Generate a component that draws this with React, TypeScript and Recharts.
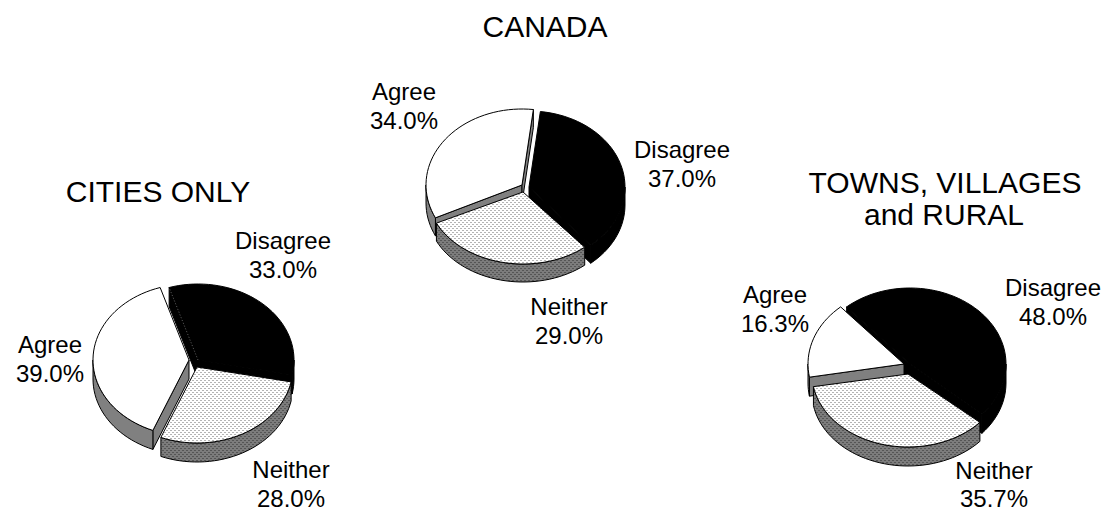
import React from "react";
import { PieChart, Pie, Cell } from "recharts";

// Opinion shares per region, drawn in counter-clockwise order.
const categories = ["Disagree", "Agree", "Neither"];
const canadaValues = [37.0, 34.0, 29.0];
const citiesValues = [33.0, 39.0, 28.0];
const townsValues = [48.0, 16.3, 35.7];

const FONT = "'Liberation Sans', Arial, sans-serif";
const RX = 96;
const RY = 76;

type Slice = { dx: number; dy: number; lx: number; ly: number; ry?: number; gap?: number };
type PieLayout = {
  cx: number;
  cy: number;
  depth: number;
  blackEnd: number; // clock angle where the Disagree wedge ends
  seam?: boolean; // faint line where the Disagree top meets its own wall
  slices: Record<string, Slice>;
};

const canadaLayout: PieLayout = {
  cx: 524,
  cy: 187,
  depth: 18,
  blackEnd: 140,
  slices: {
    Disagree: { dx: 5, dy: 0, lx: 682, ly: 158 },
    Agree: { dx: -2, dy: -2, lx: 404, ly: 100 },
    Neither: { dx: -1, dy: 5, lx: 569, ly: 315, ry: 72 },
  },
};
const citiesLayout: PieLayout = {
  cx: 193,
  cy: 360,
  depth: 19,
  blackEnd: 101.3,
  seam: true,
  slices: {
    Disagree: { dx: 5, dy: 0, lx: 283, ly: 249 },
    Agree: { dx: -4, dy: 0, lx: 50, ly: 353 },
    Neither: { dx: 4, dy: 7, lx: 291, ly: 478 },
  },
};
const townsLayout: PieLayout = {
  cx: 905,
  cy: 364,
  depth: 19,
  blackEnd: 131.5,
  slices: {
    Disagree: { dx: 5, dy: 0, lx: 1053, ly: 296 },
    Agree: { dx: -1, dy: 0, lx: 775, ly: 303 },
    Neither: { dx: 3, dy: 10, lx: 994, ly: 479, ry: 73, gap: 28 },
  },
};

const toRows = (values: number[]) =>
  categories.map((name, i) => ({ name, value: values[i] }));

const point = (cx: number, cy: number, clock: number, ry: number) => {
  const a = (clock * Math.PI) / 180;
  return { x: cx + RX * Math.sin(a), y: cy - ry * Math.cos(a) };
};

const arcPath = (cx: number, cy: number, from: number, to: number, ry: number) => {
  const steps = Math.max(2, Math.ceil(Math.abs(to - from) / 3));
  let d = "";
  for (let i = 1; i <= steps; i++) {
    const p = point(cx, cy, from + ((to - from) * i) / steps, ry);
    d += `L${p.x.toFixed(2)} ${p.y.toFixed(2)}`;
  }
  return d;
};

const fills: Record<string, { top: string; wall: string; stroke: string }> = {
  Disagree: { top: "#000", wall: "#000", stroke: "#000" },
  Agree: { top: "#fff", wall: "#808080", stroke: "#000" },
  Neither: { top: "url(#dotsLight)", wall: "url(#dotsDark)", stroke: "#000" },
};

// Tilted, extruded wedge built from the angles the Pie computed for each sector.
const makeWedge = (layout: PieLayout) => (props: any) => {
  const name = props.payload?.name ?? props.name;
  const off = layout.slices[name];
  const f = fills[name];
  const ry = off.ry ?? RY;
  const depth = layout.depth;
  const a1 = 90 - Math.max(props.startAngle, props.endAngle);
  const a2 = 90 - Math.min(props.startAngle, props.endAngle);
  const s = ((a1 % 360) + 360) % 360;
  const e = s + (a2 - a1);
  const cx = layout.cx + off.dx;
  const cy = layout.cy + off.dy;
  const pS = point(cx, cy, s, ry);
  const sw = 1;

  const radial = (clock: number) => {
    const p = point(cx, cy, clock, ry);
    return `M${cx} ${cy}L${p.x} ${p.y}L${p.x} ${p.y + depth}L${cx} ${cy + depth}Z`;
  };
  const walls: React.ReactNode[] = [];
  if (Math.sin((s * Math.PI) / 180) < 0)
    walls.push(<path key="ws" d={radial(s)} fill={f.wall} stroke={f.stroke} strokeWidth={sw} />);
  if (Math.sin((e * Math.PI) / 180) > 0)
    walls.push(<path key="we" d={radial(e)} fill={f.wall} stroke={f.stroke} strokeWidth={sw} />);

  // the rim is only seen on the near half of the ellipse
  const segs: [number, number][] = [
    [90, 270],
    [450, 630],
  ];
  segs.forEach(([lo, hi], i) => {
    const from = Math.max(lo, s);
    const to = Math.min(hi, e);
    if (to > from) {
      const top = point(cx, cy, from, ry);
      const back = point(cx, cy + depth, to, ry);
      walls.push(
        <path
          key={`rim${i}`}
          d={`M${top.x} ${top.y}${arcPath(cx, cy, from, to, ry)}L${back.x} ${back.y}${arcPath(cx, cy + depth, to, from, ry)}Z`}
          fill={f.wall}
          stroke={f.stroke}
          strokeWidth={sw}
        />
      );
    }
  });

  return (
    <g>
      {walls}
      <path
        d={`M${cx} ${cy}L${pS.x} ${pS.y}${arcPath(cx, cy, s, e, ry)}Z`}
        fill={f.top}
        stroke={f.stroke}
        strokeWidth={sw}
      />
      {layout.seam && name === "Disagree" ? (
        <path d={`M${cx} ${cy}L${pS.x} ${pS.y}`} stroke="#777" strokeWidth={0.8} strokeDasharray="1 2" fill="none" />
      ) : null}
    </g>
  );
};

const makeLabel = (layout: PieLayout) => (props: any) => {
  const name = props.payload?.name ?? props.name;
  const off = layout.slices[name];
  return (
    <g fontFamily={FONT} fontSize={24} fill="#000" textAnchor="middle">
      <text x={off.lx} y={off.ly}>{name}</text>
      <text x={off.lx} y={off.ly + (off.gap ?? 29)}>{`${props.value.toFixed(1)}%`}</text>
    </g>
  );
};

const RegionPie = (values: number[], layout: PieLayout, key: string) => {
  const wedge = makeWedge(layout);
  const start = 90 - layout.blackEnd;
  return (
    <Pie
      key={key}
      data={toRows(values)}
      dataKey="value"
      nameKey="name"
      cx={layout.cx}
      cy={layout.cy}
      outerRadius={RX}
      startAngle={start}
      endAngle={start + 360}
      paddingAngle={0}
      stroke="none"
      isAnimationActive={false}
      shape={wedge}
      inactiveShape={wedge}
      activeShape={wedge}
      label={makeLabel(layout)}
      labelLine={false}
    >
      {categories.map((c) => (
        <Cell key={c} />
      ))}
    </Pie>
  );
};

export default function App() {
  return (
    <div style={{ position: "absolute", left: 0, top: 0, width: 1104, height: 512, background: "#fff" }}>
      <PieChart width={1104} height={512} margin={{ top: 0, right: 0, bottom: 0, left: 0 }}>
        <defs>
          <pattern id="dotsLight" width="4" height="4" patternUnits="userSpaceOnUse">
            <rect width="4" height="4" fill="#fff" />
            <rect x="0" y="0" width="2" height="1" fill="#b4b4b4" />
            <rect x="2" y="2" width="2" height="1" fill="#b4b4b4" />
          </pattern>
          <pattern id="dotsDark" width="4" height="4" patternUnits="userSpaceOnUse">
            <rect width="4" height="4" fill="#7c7c7c" />
            <rect x="0" y="0" width="2" height="1" fill="#555" />
            <rect x="2" y="2" width="2" height="1" fill="#555" />
          </pattern>
        </defs>
        {RegionPie(canadaValues, canadaLayout, "canada")}
        {RegionPie(citiesValues, citiesLayout, "cities")}
        {RegionPie(townsValues, townsLayout, "towns")}
        <g fontFamily={FONT} fontSize={30} fill="#000" textAnchor="middle">
          <text x={545} y={37}>CANADA</text>
          <text x={158} y={202}>CITIES ONLY</text>
          <text x={945} y={193}>TOWNS, VILLAGES</text>
          <text x={944} y={225}>and RURAL</text>
        </g>
      </PieChart>
    </div>
  );
}
